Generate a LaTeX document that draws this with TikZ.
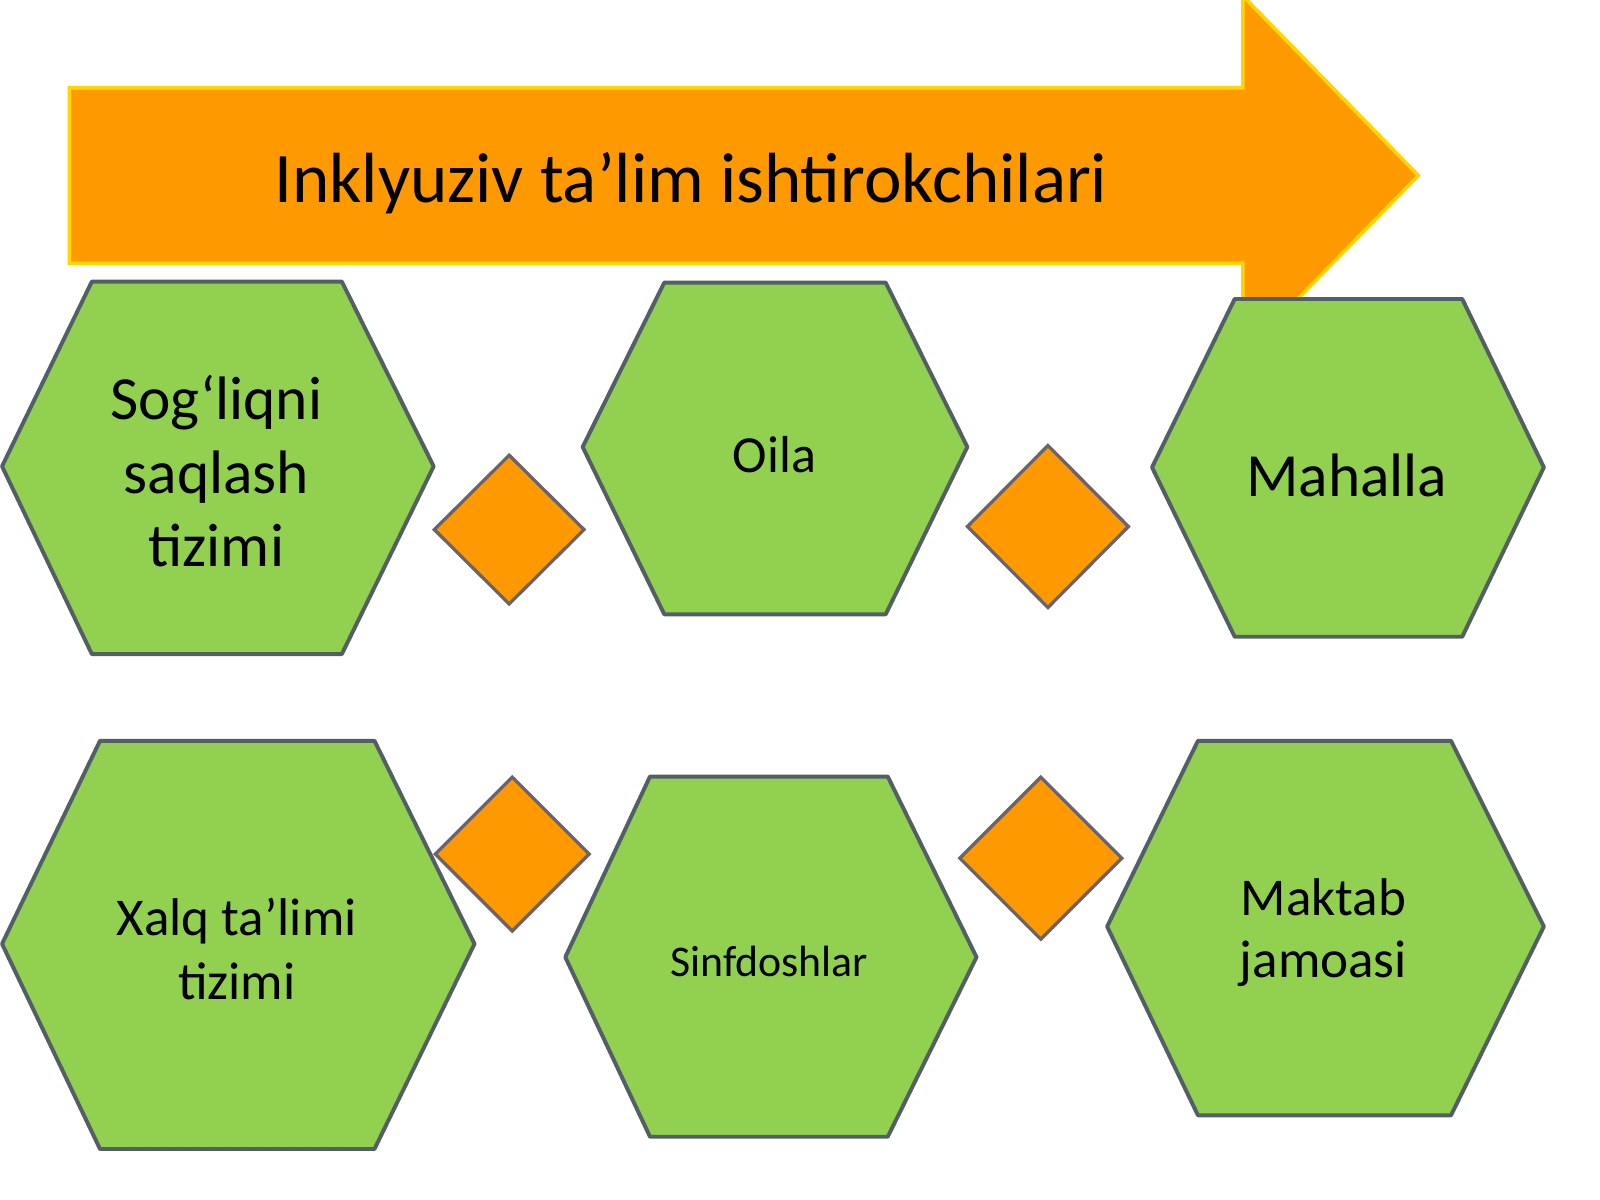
\documentclass[tikz,border=0pt]{standalone}
\usepackage{fontspec}
\setmainfont{Carlito}
\usetikzlibrary{shapes.geometric}
\definecolor{hexgreen}{RGB}{146,208,80}
\definecolor{hexline}{RGB}{82,96,102}
\definecolor{orng}{RGB}{255,153,0}
\definecolor{rombline}{RGB}{105,100,108}
\definecolor{arrowline}{RGB}{255,214,0}
\begin{document}
\begin{tikzpicture}[x=0.01cm,y=-0.01cm,
	hexa/.style={draw=hexline,fill=hexgreen,line width=1.1pt,line join=round},
	romb/.style={diamond,draw=rombline,fill=orng,line width=0.9pt,inner sep=0pt},
	lbl/.style={align=center,inner sep=0pt}]
		\fill[white] (0,0) rectangle (1568,1176);
		\useasboundingbox (0,0) rectangle (1568,1176);
		% big arrow
		\draw[fill=orng,draw=arrowline,line width=1pt,line join=miter] (68,86) -- (1218,86) -- (1218,-4) -- (1390,172) -- (1218,348) -- (1218,258) -- (68,258) -- cycle;
		\node[lbl,font=\fontsize{19.8}{23}\selectfont] (title) at (677,180) {Inklyuziv ta’lim ishtirokchilari};
		% upper row
		\draw[hexa] (2,457) -- (90,276) -- (335,276) -- (425,457) -- (335,641) -- (90,641) -- cycle;
		\draw[hexa] (571,438) -- (651,277) -- (868,277) -- (948,438) -- (868,602) -- (651,602) -- cycle;
		\draw[hexa] (1129,458) -- (1210,293) -- (1433,293) -- (1513,458) -- (1433,624) -- (1210,624) -- cycle;
		\node[romb,minimum width=1.48cm,minimum height=1.47cm] (r1) at (499,519) {};
		\node[romb,minimum width=1.59cm,minimum height=1.6cm] (r2) at (1027,516) {};
		\node[lbl,font=\fontsize{17.1}{20.5}\selectfont] (sogliq) at (212,462) {Sog‘liqni\\saqlash\\tizimi};
		\node[lbl,font=\fontsize{14.5}{17}\selectfont] (oila) at (759,446) {Oila};
		\node[lbl,font=\fontsize{17.1}{20.5}\selectfont] (mahalla) at (1320,466) {Mahalla};
		% lower row
		\draw[hexa] (2,925) -- (98,726) -- (367,726) -- (465,925) -- (367,1126) -- (98,1126) -- cycle;
		\draw[hexa] (554,938) -- (637,761) -- (870,761) -- (957,938) -- (870,1114) -- (637,1114) -- cycle;
		\draw[hexa] (1085,908) -- (1174,726) -- (1422,726) -- (1513,908) -- (1422,1093) -- (1174,1093) -- cycle;
		\node[romb,minimum width=1.52cm,minimum height=1.52cm] (r3) at (502,837) {};
		\node[romb,minimum width=1.6cm,minimum height=1.6cm] (r4) at (1020,841) {};
		\node[lbl,font=\fontsize{14.8}{17.6}\selectfont] (xalq) at (232,930) {Xalq ta’limi\\tizimi};
		\node[lbl,font=\fontsize{12.2}{14}\selectfont] (sinf) at (754,942) {Sinfdoshlar};
		\node[lbl,font=\fontsize{14.8}{17.4}\selectfont] (maktab) at (1297,914) {Maktab\\jamoasi};
\end{tikzpicture}
\end{document}
